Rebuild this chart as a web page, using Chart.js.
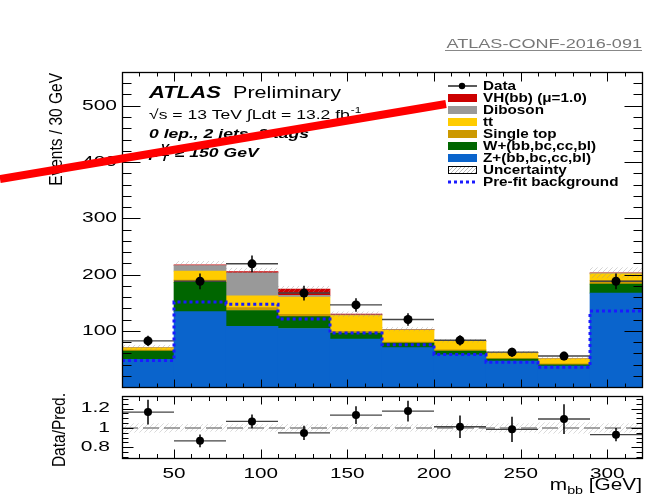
<!DOCTYPE html>
<html>
<head>
<meta charset="utf-8">
<script src="https://cdn.jsdelivr.net/npm/chart.js@4.4.1/dist/chart.umd.min.js"></script>
<style>
html, body { margin: 0; padding: 0; background: #fff; }
#wrap { position: relative; width: 656px; height: 499px; overflow: hidden; }
canvas { position: absolute; left: 0; }
#main { top: 0; }
#ratio { top: 392px; }
</style>
</head>
<body>
<div id="wrap">
  <canvas id="main" width="656" height="392"></canvas>
  <canvas id="ratio" width="656" height="107"></canvas>
</div>
<script>
// m_bb bins [GeV]
var binEdges   = [20, 50, 80, 110, 140, 170, 200, 230, 260, 290, 320];
var binCenters = [35, 65, 95, 125, 155, 185, 215, 245, 275, 305];

// post-fit stack, events / 30 GeV (bottom to top)
var zJets     = [49, 134, 108, 104, 85, 70, 57, 46, 37, 167];
var wJets     = [15, 52, 28, 21, 11, 8, 7, 3.5, 2.5, 16];
var singleTop = [1.5, 4, 5, 4, 3, 2, 2, 1.5, 1.5, 6];
var ttbar     = [4, 16, 21, 31, 28, 21, 15, 10, 9, 12];
var diboson   = [0.5, 10, 41, 3, 1.5, 1, 1, 0.5, 0.5, 1.5];
var vhbb      = [0.3, 1, 2, 11, 1, 0.5, 0.3, 0.2, 0.2, 0.5];
var bkgUnc    = [5, 7, 7, 6, 5, 4, 3.5, 3, 3, 10];

var prefitBkg = [47, 151, 147, 121, 96, 75, 58, 44, 35, 135];

var dataObs = [82, 188, 219, 167, 146, 120, 83, 62, 55, 188];
var dataErr = [9, 14, 15, 13, 12, 11, 9, 8, 7.5, 14];

// lower panel
var ratioVals = [1.164, 0.867, 1.068, 0.949, 1.133, 1.174, 1.013, 0.986, 1.092, 0.931];
var ratioErr  = [0.128, 0.065, 0.072, 0.074, 0.092, 0.106, 0.116, 0.13, 0.154, 0.068];
var ratioUnc  = [0.05, 0.04, 0.04, 0.04, 0.04, 0.04, 0.045, 0.05, 0.06, 0.05];

// axis labels
var xTickLabels = [50, 100, 150, 200, 250, 300];
var yTickLabels = [100, 200, 300, 400, 500];
var ratioTickLabels = [0.8, 1, 1.2];

var FONT = 'Liberation Sans, Arial, sans-serif';

// the picture is stretched sideways, so text is drawn with a horizontal scale
function drawText(ctx, s, x, y, font, opts) {
  opts = opts || {};
  var sx = opts.sx || 1.3, align = opts.align || 'left';
  ctx.save();
  ctx.font = font;
  ctx.fillStyle = opts.color || '#000';
  ctx.textBaseline = opts.baseline || 'alphabetic';
  ctx.textAlign = 'left';
  var w = ctx.measureText(s).width * sx;
  var x0 = align === 'right' ? x - w : (align === 'center' ? x - w / 2 : x);
  ctx.translate(x0, y);
  ctx.scale(sx, 1);
  ctx.fillText(s, 0, 0);
  ctx.restore();
  return x0 + w;
}

function vText(ctx, s, x, y, font, sy) {
  ctx.save();
  ctx.font = font;
  ctx.fillStyle = '#000';
  ctx.textAlign = 'right';
  ctx.textBaseline = 'alphabetic';
  ctx.translate(x, y);
  ctx.rotate(-Math.PI / 2);
  ctx.scale(1, sy);
  ctx.fillText(s, 0, 0);
  ctx.restore();
}

function hatch(ctx, x0, y0, x1, y1, color, step) {
  ctx.save();
  ctx.beginPath();
  ctx.rect(x0, y0, x1 - x0, y1 - y0);
  ctx.clip();
  ctx.strokeStyle = color;
  ctx.lineWidth = 1;
  ctx.beginPath();
  var c = Math.floor((x0 + y0) / step) * step;
  for (; c < x1 + y1 + step; c += step) {
    ctx.moveTo(c - y1, y1);
    ctx.lineTo(c - y0, y0);
  }
  ctx.stroke();
  ctx.restore();
}

function line(ctx, x0, y0, x1, y1) {
  ctx.beginPath();
  ctx.moveTo(x0, y0);
  ctx.lineTo(x1, y1);
  ctx.stroke();
}

function snap(v) { return Math.round(v) + 0.5; }

// frame with inward ticks on four sides, ROOT style
function drawFrame(chart, xt, yt) {
  var ctx = chart.ctx, a = chart.chartArea;
  var xs = chart.scales.x, ys = chart.scales.y;
  var L = snap(a.left), R = snap(a.right), T = snap(a.top), B = snap(a.bottom);
  ctx.save();
  ctx.strokeStyle = '#000';
  ctx.lineWidth = 1;
  for (var v = 20; v <= 320; v += 10) {
    var px = snap(xs.getPixelForValue(v));
    var major = v % 50 === 0;
    line(ctx, px, B, px, B - (major ? xt.bottomMajor : xt.minor));
    line(ctx, px, T, px, T + (major ? xt.topMajor : xt.minor));
  }
  for (var k = yt.from; k <= yt.to; k++) {
    var py = snap(ys.getPixelForValue(k * yt.step));
    var maj = k % yt.every === 0;
    var len = maj ? yt.major : yt.minor;
    line(ctx, L, py, L + len, py);
    line(ctx, R, py, R - len, py);
  }
  ctx.lineWidth = 1.3;
  ctx.strokeRect(L, T, R - L, B - T);
  ctx.restore();
}

var mainDecor = {
  id: 'mainDecor',
  afterDatasetDraw: function (chart, args) {
    if (args.index !== 0) return;
    var ctx = chart.ctx, a = chart.chartArea, xs = chart.scales.x, ys = chart.scales.y;
    ctx.save();
    ctx.beginPath();
    ctx.rect(a.left, a.top, a.right - a.left, a.bottom - a.top);
    ctx.clip();
    for (var i = 0; i < binCenters.length; i++) {
      var tot = zJets[i] + wJets[i] + singleTop[i] + ttbar[i] + diboson[i] + vhbb[i];
      var x0 = xs.getPixelForValue(binEdges[i]), x1 = xs.getPixelForValue(binEdges[i + 1]);
      hatch(ctx, x0, ys.getPixelForValue(tot + bkgUnc[i]), x1, ys.getPixelForValue(tot - bkgUnc[i]),
            'rgba(150,150,150,0.4)', 5);
    }
    for (var j = 0; j < binCenters.length; j++) {
      var xc = xs.getPixelForValue(binCenters[j]);
      var yv = ys.getPixelForValue(dataObs[j]);
      ctx.strokeStyle = '#444';
      ctx.lineWidth = 1.4;
      line(ctx, xs.getPixelForValue(binEdges[j]), yv, xs.getPixelForValue(binEdges[j + 1]), yv);
      ctx.strokeStyle = '#000';
      ctx.lineWidth = 1.5;
      line(ctx, xc, ys.getPixelForValue(dataObs[j] - dataErr[j]), xc, ys.getPixelForValue(dataObs[j] + dataErr[j]));
    }
    ctx.restore();
  },
  afterDraw: function (chart) {
    var ctx = chart.ctx, a = chart.chartArea, ys = chart.scales.y;
    drawFrame(chart, { bottomMajor: 8, topMajor: 9, minor: 4 },
              { from: 0, to: 28, step: 20, every: 5, major: 18, minor: 9 });

    yTickLabels.forEach(function (v) {
      drawText(ctx, String(v), 117, ys.getPixelForValue(v), '15px ' + FONT,
               { align: 'right', baseline: 'middle', sx: 1.4 });
    });
    vText(ctx, 'Events / 30 GeV', 62, 73, '15.5px ' + FONT, 1.2);

    // reference tag
    var e = drawText(ctx, 'ATLAS-CONF-2016-091', 642, 48, '13px ' + FONT, { align: 'right', sx: 1.39, color: '#777' });
    ctx.save();
    ctx.strokeStyle = '#888';
    ctx.lineWidth = 1;
    line(ctx, 445, 50.5, e, 50.5);
    ctx.restore();

    // labels inside the frame
    drawText(ctx, 'ATLAS', 149, 98, 'italic bold 17px ' + FONT, { sx: 1.3 });
    drawText(ctx, 'Preliminary', 233, 98, '17px ' + FONT, { sx: 1.27 });
    var x2 = drawText(ctx, '\u221As = 13 TeV \u222BLdt = 13.2 fb', 149, 119, '13.5px ' + FONT, { sx: 1.3 });
    drawText(ctx, '-1', x2 + 1, 113, '9px ' + FONT, { sx: 1.3 });
    drawText(ctx, '0 lep., 2 jets, 2 tags', 149, 138, 'italic bold 13.5px ' + FONT, { sx: 1.3 });
    var xp = drawText(ctx, 'p', 149, 157, 'italic bold 13.5px ' + FONT, { sx: 1.3 });
    drawText(ctx, 'T', xp + 1, 161, 'italic bold 9.5px ' + FONT, { sx: 1.3 });
    var xv = drawText(ctx, 'V', xp + 1, 150, 'italic bold 9.5px ' + FONT, { sx: 1.3 });
    drawText(ctx, ' \u2265 150 GeV', xv + 1, 157, 'italic bold 13.5px ' + FONT, { sx: 1.3 });

    // legend
    var items = [
      { label: 'Data', kind: 'data' },
      { label: 'VH(bb) (\u03BC=1.0)', color: '#cc0000' },
      { label: 'Diboson', color: '#999999' },
      { label: 'tt', color: '#ffcc00' },
      { label: 'Single top', color: '#cc9900' },
      { label: 'W+(bb,bc,cc,bl)', color: '#006600' },
      { label: 'Z+(bb,bc,cc,bl)', color: '#0a64cc' },
      { label: 'Uncertainty', kind: 'hatch' },
      { label: 'Pre-fit background', kind: 'dotted' }
    ];
    items.forEach(function (it, i) {
      var y = 86 + 12 * i;
      ctx.save();
      if (it.kind === 'data') {
        ctx.strokeStyle = '#000';
        ctx.lineWidth = 1.3;
        line(ctx, 448, y, 477, y);
        ctx.fillStyle = '#000';
        ctx.beginPath();
        ctx.arc(462, y, 3.2, 0, Math.PI * 2);
        ctx.fill();
      } else if (it.kind === 'hatch') {
        ctx.fillStyle = '#fff';
        ctx.fillRect(448, y - 4, 29, 8);
        hatch(ctx, 448, y - 4, 477, y + 4, '#bbb', 4);
        ctx.strokeStyle = '#000';
        ctx.lineWidth = 1;
        ctx.strokeRect(448.5, y - 3.5, 28, 7);
      } else if (it.kind === 'dotted') {
        ctx.strokeStyle = '#1a1aff';
        ctx.lineWidth = 3;
        ctx.setLineDash([3, 3]);
        line(ctx, 448, y, 477, y);
      } else {
        ctx.fillStyle = it.color;
        ctx.fillRect(448, y - 4, 29, 8);
      }
      ctx.restore();
      drawText(ctx, it.label, 483, y + 0.5, 'bold 12px ' + FONT, { baseline: 'middle', sx: 1.27 });
    });

    // red stroke drawn over the figure
    ctx.save();
    ctx.strokeStyle = '#ff0000';
    ctx.lineWidth = 8;
    ctx.lineCap = 'butt';
    line(ctx, 0, 179, 446, 104);
    ctx.restore();
  }
};

var stackDefs = [
  { label: 'Z+(bb,bc,cc,bl)', data: zJets, color: '#0a64cc' },
  { label: 'W+(bb,bc,cc,bl)', data: wJets, color: '#006600' },
  { label: 'Single top', data: singleTop, color: '#cc9900' },
  { label: 'tt', data: ttbar, color: '#ffcc00' },
  { label: 'Diboson', data: diboson, color: '#999999' },
  { label: 'VH(bb)', data: vhbb, color: '#cc0000' }
];

var mainSets = stackDefs.map(function (d) {
  return {
    type: 'bar',
    label: d.label,
    data: binCenters.map(function (c, i) { return { x: c, y: d.data[i] }; }),
    backgroundColor: d.color,
    borderWidth: 0,
    barPercentage: 1,
    categoryPercentage: 1,
    order: 3
  };
});

var prefitSteps = [];
prefitBkg.forEach(function (v, i) {
  prefitSteps.push({ x: binEdges[i], y: v }, { x: binEdges[i + 1], y: v });
});
mainSets.push({
  type: 'line',
  label: 'Pre-fit background',
  data: prefitSteps,
  yAxisID: 'yd',
  borderColor: '#1a1aff',
  borderWidth: 3,
  borderDash: [3, 3],
  pointRadius: 0,
  fill: false,
  tension: 0,
  order: 2
});
mainSets.push({
  type: 'scatter',
  label: 'Data',
  data: binCenters.map(function (c, i) { return { x: c, y: dataObs[i] }; }),
  yAxisID: 'yd',
  pointRadius: 4.5,
  pointBackgroundColor: '#000',
  pointBorderWidth: 0,
  order: 1
});

new Chart(document.getElementById('main'), {
  type: 'bar',
  data: { datasets: mainSets },
  options: {
    responsive: false,
    animation: false,
    devicePixelRatio: 1,
    events: [],
    layout: { padding: { left: 122, right: 14, top: 72, bottom: 5 } },
    scales: {
      x: {
        type: 'linear', min: 20, max: 320, offset: false, stacked: true, display: false,
        afterBuildTicks: function (scale) {
          scale.ticks = binEdges.map(function (v) { return { value: v }; });
        }
      },
      y: { type: 'linear', min: 0, max: 560, stacked: true, display: false },
      yd: { type: 'linear', min: 0, max: 560, stacked: false, display: false }
    },
    plugins: { legend: { display: false }, tooltip: { enabled: false } }
  },
  plugins: [mainDecor]
});

var ratioDecor = {
  id: 'ratioDecor',
  beforeDatasetsDraw: function (chart) {
    var ctx = chart.ctx, a = chart.chartArea, xs = chart.scales.x, ys = chart.scales.y;
    ctx.save();
    ctx.beginPath();
    ctx.rect(a.left, a.top, a.right - a.left, a.bottom - a.top);
    ctx.clip();
    for (var i = 0; i < binCenters.length; i++) {
      hatch(ctx, xs.getPixelForValue(binEdges[i]), ys.getPixelForValue(1 + ratioUnc[i]),
            xs.getPixelForValue(binEdges[i + 1]), ys.getPixelForValue(1 - ratioUnc[i]), '#dadada', 5);
    }
    ctx.strokeStyle = '#888';
    ctx.lineWidth = 1.5;
    ctx.setLineDash([16, 5]);
    var y1 = ys.getPixelForValue(1);
    line(ctx, a.left, y1, a.right, y1);
    ctx.setLineDash([]);
    for (var j = 0; j < binCenters.length; j++) {
      var xc = xs.getPixelForValue(binCenters[j]);
      var yv = ys.getPixelForValue(ratioVals[j]);
      ctx.strokeStyle = '#444';
      ctx.lineWidth = 1.4;
      line(ctx, xs.getPixelForValue(binEdges[j]), yv, xs.getPixelForValue(binEdges[j + 1]), yv);
      ctx.strokeStyle = '#000';
      ctx.lineWidth = 1.5;
      line(ctx, xc, ys.getPixelForValue(ratioVals[j] - ratioErr[j]), xc, ys.getPixelForValue(ratioVals[j] + ratioErr[j]));
    }
    ctx.restore();
  },
  afterDraw: function (chart) {
    var ctx = chart.ctx, xs = chart.scales.x, ys = chart.scales.y;
    drawFrame(chart, { bottomMajor: 9, topMajor: 8, minor: 4.5 },
              { from: 14, to: 26, step: 0.05, every: 4, major: 11, minor: 6 });
    ratioTickLabels.forEach(function (v) {
      drawText(ctx, String(v), 110, ys.getPixelForValue(v), '14px ' + FONT,
               { align: 'right', baseline: 'middle', sx: 1.5 });
    });
    xTickLabels.forEach(function (v) {
      drawText(ctx, String(v), xs.getPixelForValue(v), 86, '15px ' + FONT, { align: 'center', sx: 1.38 });
    });
    vText(ctx, 'Data/Pred.', 65, 1, '15.5px ' + FONT, 1.2);
    // m_bb [GeV], right aligned to the frame
    ctx.save();
    ctx.font = '16px ' + FONT;
    var wGeV = ctx.measureText(' [GeV]').width * 1.3;
    ctx.font = '11px ' + FONT;
    var wbb = ctx.measureText('bb').width * 1.3;
    ctx.font = '16px ' + FONT;
    var wm = ctx.measureText('m').width * 1.3;
    ctx.restore();
    var x0 = 642 - wGeV - wbb - wm;
    var xm = drawText(ctx, 'm', x0, 98, '16px ' + FONT, { sx: 1.3 });
    var xb = drawText(ctx, 'bb', xm, 102, '11px ' + FONT, { sx: 1.3 });
    drawText(ctx, ' [GeV]', xb, 98, '16px ' + FONT, { sx: 1.3 });
  }
};

new Chart(document.getElementById('ratio'), {
  type: 'scatter',
  data: {
    datasets: [{
      label: 'Data/Pred.',
      data: binCenters.map(function (c, i) { return { x: c, y: ratioVals[i] }; }),
      pointRadius: 4,
      pointBackgroundColor: '#000',
      pointBorderWidth: 0
    }]
  },
  options: {
    responsive: false,
    animation: false,
    devicePixelRatio: 1,
    events: [],
    layout: { padding: { left: 122, right: 14, top: 3, bottom: 41 } },
    scales: {
      x: { type: 'linear', min: 20, max: 320, display: false },
      y: { type: 'linear', min: 0.69, max: 1.33, display: false }
    },
    plugins: { legend: { display: false }, tooltip: { enabled: false } }
  },
  plugins: [ratioDecor]
});
</script>
</body>
</html>
